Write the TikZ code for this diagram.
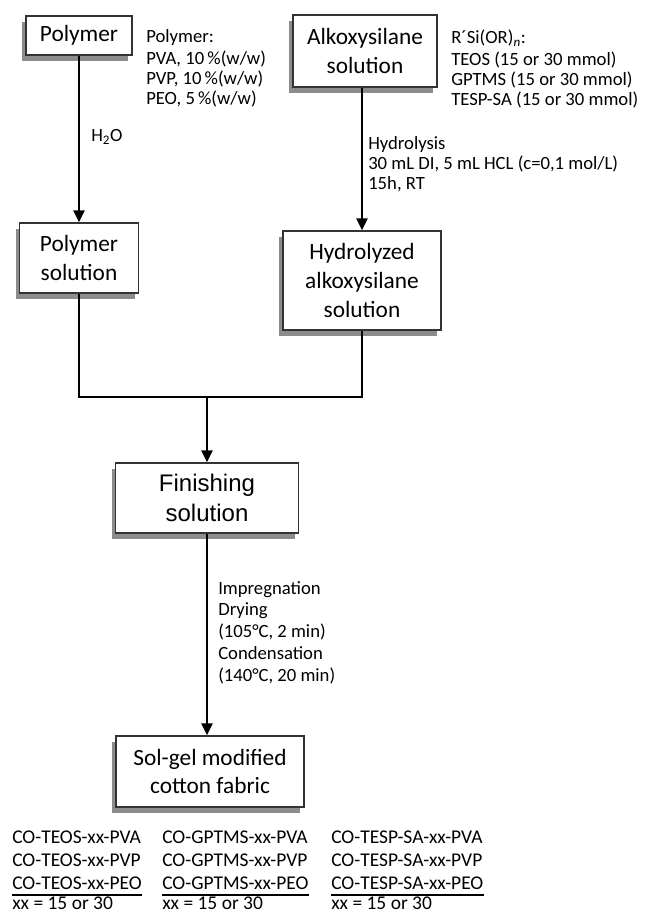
\documentclass[tikz,border=0pt]{standalone}
\usepackage{fontspec}
\setmainfont{Carlito}
\newfontfamily\arialfont{Liberation Sans}
\usetikzlibrary{arrows.meta,positioning,shadows}

\begin{document}
\begin{tikzpicture}[x=0.75pt, y=-0.75pt,
  box/.style={draw=black!80, line width=1.1pt, fill=white, align=center, inner sep=2pt,
    font=\fontsize{17.5}{21.5}\selectfont,
    drop shadow={shadow xshift=-3pt, shadow yshift=-4.5pt, fill=black!60, opacity=0.75}},
  note/.style={anchor=north west, align=left, inner sep=0pt, font=\fontsize{14}{15}\selectfont},
  code/.style={note, font=\fontsize{14.6}{17}\selectfont},
  arr/.style={-{Triangle[length=9pt, width=8.5pt]}, line width=1.5pt},
  link/.style={line width=1.5pt}
]
\useasboundingbox (0,0) rectangle (645,916);

% process boxes
\node[box, minimum width=79.5pt, minimum height=29.25pt] (polymer) at (79,35.5) {Polymer};
\node[box, minimum width=108pt, minimum height=54pt] (alkoxy) at (365,51) {Alkoxysilane\\solution};
\node[box, minimum width=89.25pt, minimum height=52.5pt] (polysol) at (79,258) {Polymer\\solution};
\node[box, minimum width=118.5pt, minimum height=74.25pt] (hydro) at (362,280.5) {Hydrolyzed\\alkoxysilane\\solution};
\node[box, minimum width=137.25pt, minimum height=52.5pt,
  font=\arialfont\fontsize{18}{22.5}\selectfont] (finish) at (207,498) {Finishing\\solution};
\node[box, minimum width=141pt, minimum height=53.25pt] (solgel) at (210,771.5) {Sol-gel modified\\cotton fabric};

% side notes
\node[note] (polynote) at (146,29) {Polymer:\\[2pt]PVA, 10\,\%(w/w)\\PVP, 10\,\%(w/w)\\PEO, 5\,\%(w/w)};
\node[note] (silnote) at (451,30) {R´Si(OR)\textsubscript{\textit{n}}:\\[1pt]TEOS (15 or 30 mmol)\\GPTMS (15 or 30 mmol)\\TESP-SA (15 or 30 mmol)};
\node[note, anchor=west] (water) at (91,137) {H\textsubscript{2}O};
\node[note] (hydnote) at (368,136) {Hydrolysis\\30 mL DI, 5 mL HCL (c=0,1 mol/L)\\15h, RT};
\node[note, font=\fontsize{14}{16.3}\selectfont] (finnote) at (218,581) {Impregnation\\Drying\\(105°C, 2 min)\\Condensation\\(140°C, 20 min)};

% sample codes
\node[code] (teos) at (12,831) {CO-TEOS-xx-PVA\\CO-TEOS-xx-PVP\\CO-TEOS-xx-PEO};
\node[code] (gptms) at (162,831) {CO-GPTMS-xx-PVA\\CO-GPTMS-xx-PVP\\CO-GPTMS-xx-PEO};
\node[code] (tesp) at (331,831) {CO-TESP-SA-xx-PVA\\CO-TESP-SA-xx-PVP\\CO-TESP-SA-xx-PEO};
\node[code] (teosxx) at (12,897) {xx = 15 or 30};
\node[code] (gptmsxx) at (162,897) {xx = 15 or 30};
\node[code] (tespxx) at (331,897) {xx = 15 or 30};

\coordinate (join) at (207,397);

\draw[arr] (polymer) -- (polysol);
\draw[arr] (alkoxy.south -| hydro.north) -- (hydro.north);
\draw[link] (polysol.south) |- (join);
\draw[link] (hydro.south) |- (join);
\draw[arr] (join) -- (finish.north);
\draw[arr] (finish.south) -- (finish.south |- solgel.north);

% rules under the codes
\foreach \c in {teos,gptms,tesp}
  \draw[line width=0.9pt] ([yshift=-4pt]\c.south west) -- ([yshift=-4pt]\c.south east);

\end{tikzpicture}
\end{document}
